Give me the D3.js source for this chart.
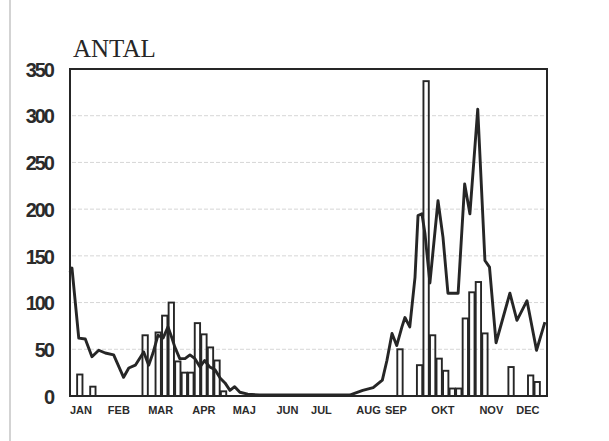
<!DOCTYPE html>
<html>
<head>
<meta charset="utf-8">
<script src="https://cdn.jsdelivr.net/npm/d3@7"></script>
<style>
  body { margin: 0; background: #fff; }
  svg { display: block; }
  .ylab text { font-family: "Liberation Sans", Arial, sans-serif; font-size: 20px; font-weight: bold; letter-spacing: -2px; fill: #2b2b2b; }
  .xlab text { font-family: "Liberation Sans", Arial, sans-serif; font-size: 11px; font-weight: bold; fill: #2b2b2b; }
</style>
</head>
<body>
<svg id="chart" width="609" height="441"></svg>
<script>
// month labels and where they sit (day of year)
var months = ["JAN", "FEB", "MAR", "APR", "MAJ", "JUN", "JUL", "AUG", "SEP", "OKT", "NOV", "DEC"];
var monthDay = [8, 37, 69, 102, 133, 166, 192, 228, 249, 285, 322, 350];
var yTicks = [0, 50, 100, 150, 200, 250, 300, 350];

// bars: 5-day period index and count
var barPentad = [1, 3, 11, 13, 14, 15, 16, 17, 18, 19, 20, 21, 22, 23,
                 50, 53, 54, 55, 56, 57, 58, 59, 60, 61, 62, 63, 67, 70, 71];
var barValue  = [23, 10, 65, 68, 86, 100, 37, 25, 25, 78, 66, 52, 38, 5,
                 50, 33, 337, 65, 40, 27, 8, 8, 83, 111, 122, 67, 31, 22, 15];

// line: day of year and count
var lineDay = [0, 1.5, 6.7, 11.7, 16.8, 22, 27, 33.4, 41, 45, 50, 56.4, 60.2, 63.5, 67.3, 71.2, 75, 78, 80.3,
               84, 88, 91.8, 95.6, 99.5, 103, 107, 111, 115, 118.6, 122.4, 126, 130, 136, 145, 214,
               224, 232, 239, 242.5, 246.4, 250, 254, 256.3, 260, 264, 266.3, 269.3, 271.6, 275.4,
               281.6, 285.4, 289.2, 297, 302, 306, 312, 317.5, 321, 326, 336.6, 342, 349.7, 357, 363.4];
var lineValue = [132, 137, 62, 61, 42, 49, 46, 44, 20, 30, 33, 47, 33, 46, 65, 62, 74, 62, 52,
                 40, 40, 44, 40, 31, 38, 31, 28, 19, 14, 6, 10, 4, 2, 1, 1,
                 6, 9, 17, 38, 67, 54, 74, 84, 74, 127, 193, 195, 174, 121,
                 209, 170, 110, 110, 227, 195, 307, 145, 138, 57, 110, 81, 102, 49, 79];

var svg = d3.select("#chart"),
    margin = {top: 69, right: 62, bottom: 45, left: 70},
    width = +svg.attr("width") - margin.left - margin.right,
    height = +svg.attr("height") - margin.top - margin.bottom;

var ink = "#262626";

// scan edge on the left
svg.append("line")
    .attr("x1", 10).attr("x2", 10).attr("y1", 0).attr("y2", 441)
    .attr("stroke", "#c4c4c4").attr("stroke-width", 1.5);

svg.append("text")
    .attr("x", 73).attr("y", 57)
    .attr("font-family", "Liberation Serif, Times New Roman, serif")
    .attr("font-size", 25)
    .attr("fill", ink)
    .text("ANTAL");

var x = d3.scaleLinear().domain([0, 365]).range([0, width]);
var y = d3.scaleLinear().domain([0, 350]).range([height, 0]);

var g = svg.append("g")
    .attr("transform", "translate(" + margin.left + "," + margin.top + ")");

// faint scanned grid lines
g.append("g")
    .selectAll("line")
    .data(yTicks.filter(function (d) { return d > 0 && d < 350; }))
    .enter().append("line")
    .attr("x1", 2).attr("x2", width - 2)
    .attr("y1", function (d) { return y(d); })
    .attr("y2", function (d) { return y(d); })
    .attr("stroke", "#d6d6d6")
    .attr("stroke-width", 1)
    .attr("stroke-dasharray", "4,2");

var yAxis = g.append("g")
    .attr("class", "ylab")
    .attr("transform", "translate(-17,0)")
    .call(d3.axisLeft(y).tickValues(yTicks).tickSize(0).tickPadding(0));
yAxis.select(".domain").remove();
yAxis.selectAll("text").attr("dy", "0.36em");

var xAxis = g.append("g")
    .attr("class", "xlab")
    .attr("transform", "translate(0," + (height + 10) + ")")
    .call(d3.axisBottom(x).tickValues(monthDay).tickSize(0).tickPadding(0)
        .tickFormat(function (d, i) { return months[i]; }));
xAxis.select(".domain").remove();

// bars (hollow)
g.selectAll("rect.bar")
    .data(barPentad)
    .enter().append("rect")
    .attr("class", "bar")
    .attr("x", function (d) { return x(d * 5) + 0.6; })
    .attr("width", function (d) { return x(d * 5 + 5) - x(d * 5) - 1.2; })
    .attr("y", function (d, i) { return y(barValue[i]); })
    .attr("height", function (d, i) { return height - y(barValue[i]); })
    .attr("fill", "none")
    .attr("stroke", ink)
    .attr("stroke-width", 1.9);

var line = d3.line()
    .x(function (d) { return x(d); })
    .y(function (d, i) { return y(lineValue[i]); });

g.append("path")
    .datum(lineDay)
    .attr("d", line)
    .attr("fill", "none")
    .attr("stroke", ink)
    .attr("stroke-width", 2.9)
    .attr("stroke-linejoin", "round");

// frame
g.append("rect")
    .attr("x", 0).attr("y", 0)
    .attr("width", width).attr("height", height)
    .attr("fill", "none")
    .attr("stroke", ink)
    .attr("stroke-width", 2);
</script>
</body>
</html>
